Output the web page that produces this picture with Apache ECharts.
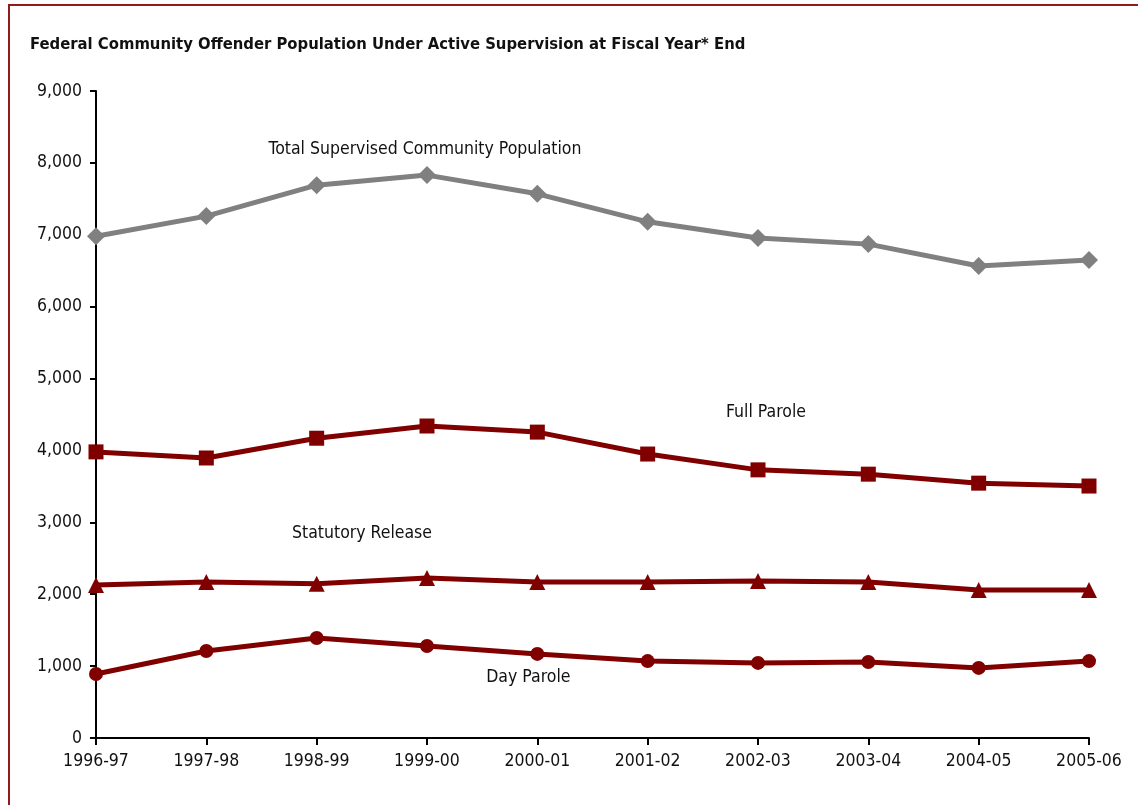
<!DOCTYPE html>
<html>
<head>
<meta charset="utf-8">
<script src="https://cdn.jsdelivr.net/npm/echarts@6/dist/echarts.min.js"></script>
<style>
html,body{margin:0;padding:0;background:#fff;}
#frame{position:absolute;left:8px;top:4px;width:1130px;height:801px;border-top:2px solid #8e1c1c;border-left:2px solid #8e1c1c;box-sizing:border-box;}
#chart{position:absolute;left:0;top:0;width:1138px;height:805px;}
</style>
</head>
<body>
<div id="frame"></div>
<div id="chart"></div>
<script>
const categories = ['1996-97','1997-98','1998-99','1999-00','2000-01','2001-02','2002-03','2003-04','2004-05','2005-06'];
const totalSupervised = [6980, 7260, 7690, 7830, 7570, 7180, 6955, 6870, 6565, 6650];
const fullParole = [3980, 3895, 4170, 4340, 4255, 3950, 3730, 3670, 3545, 3505];
const statutoryRelease = [2130, 2170, 2145, 2225, 2170, 2170, 2185, 2170, 2060, 2058];
const dayParole = [890, 1210, 1390, 1280, 1170, 1070, 1045, 1057, 975, 1070];
const yTicks = [0, 1000, 2000, 3000, 4000, 5000, 6000, 7000, 8000, 9000];

const FONT = '"DejaVu Sans Condensed", "Liberation Sans", sans-serif';
const RED = '#800000';
const GREY = '#808080';

function note(text, cat, val, dx) {
  return {
    symbolSize: 0,
    silent: true,
    data: [{ coord: [cat, val], value: text }],
    label: {
      show: true, position: 'inside', offset: [dx, 0],
      formatter: text, color: '#111', fontFamily: FONT, fontSize: 17.5
    }
  };
}

const chart = echarts.init(document.getElementById('chart'), null, { renderer: 'canvas' });
chart.setOption({
  animation: false,
  backgroundColor: 'transparent',
  title: {
    text: 'Federal Community Offender Population Under Active Supervision at Fiscal Year* End',
    left: 30, top: 36, padding: 0,
    textStyle: { fontFamily: FONT, fontWeight: 'bold', fontSize: 16.5, color: '#111' }
  },
  grid: { left: 96, right: 49, top: 91, bottom: 67, containLabel: false },
  xAxis: {
    type: 'category',
    data: categories,
    boundaryGap: false,
    axisLine: { lineStyle: { color: '#000', width: 2 } },
    axisTick: { show: true, alignWithLabel: true, length: 7, lineStyle: { color: '#000', width: 2 } },
    axisLabel: { color: '#111', fontFamily: FONT, fontSize: 17.5, margin: 14, interval: 0 },
    splitLine: { show: false }
  },
  yAxis: {
    type: 'value',
    min: yTicks[0], max: yTicks[yTicks.length - 1], interval: 1000,
    axisLine: { show: true, lineStyle: { color: '#000', width: 2 } },
    axisTick: { show: true, length: 6, lineStyle: { color: '#000', width: 2 } },
    axisLabel: {
      color: '#111', fontFamily: FONT, fontSize: 17.5, margin: 14,
      formatter: v => v.toLocaleString('en-US')
    },
    splitLine: { show: false }
  },
  series: [
    {
      name: 'Total Supervised Community Population', type: 'line', data: totalSupervised,
      symbol: 'diamond', symbolSize: 18, showAllSymbol: true,
      lineStyle: { color: GREY, width: 5 }, itemStyle: { color: GREY },
      markPoint: note('Total Supervised Community Population', '1999-00', 8190, -2)
    },
    {
      name: 'Full Parole', type: 'line', data: fullParole,
      symbol: 'rect', symbolSize: 15, showAllSymbol: true,
      lineStyle: { color: RED, width: 5 }, itemStyle: { color: RED },
      markPoint: note('Full Parole', '2002-03', 4534, 8)
    },
    {
      name: 'Statutory Release', type: 'line', data: statutoryRelease,
      symbol: 'triangle', symbolSize: 16, showAllSymbol: true,
      lineStyle: { color: RED, width: 5 }, itemStyle: { color: RED },
      markPoint: note('Statutory Release', '1999-00', 2851, -65)
    },
    {
      name: 'Day Parole', type: 'line', data: dayParole,
      symbol: 'circle', symbolSize: 14, showAllSymbol: true,
      lineStyle: { color: RED, width: 5 }, itemStyle: { color: RED },
      markPoint: note('Day Parole', '2000-01', 848, -9)
    }
  ]
});
</script>
</body>
</html>
